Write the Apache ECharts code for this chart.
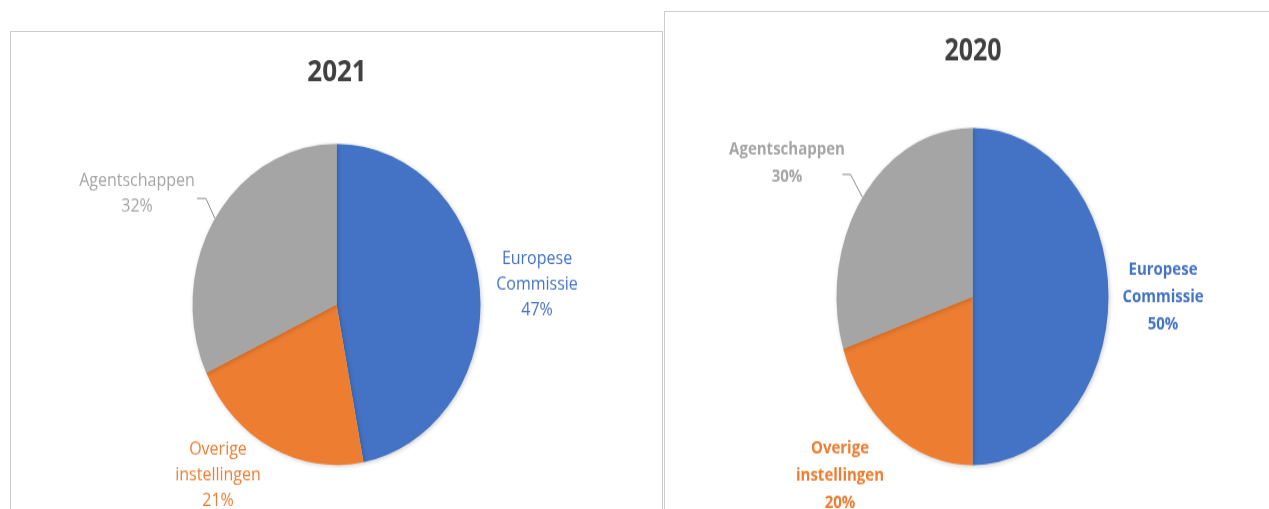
<!DOCTYPE html>
<html>
<head>
<meta charset="utf-8">
<script src="https://cdn.jsdelivr.net/npm/echarts@6/dist/echarts.min.js"></script>
<style>
html,body{margin:0;padding:0;background:#fff;overflow:hidden;width:1269px;height:509px;}
.frame{position:absolute;border:1.5px solid #cdcdcd;box-sizing:border-box;}
.chart{position:absolute;transform-origin:0 0;}
</style>
</head>
<body>
<div class="frame" style="left:10px;top:31px;width:653px;height:540px;"></div>
<div class="frame" style="left:664px;top:11px;width:640px;height:560px;"></div>
<div id="chart2021" class="chart" style="left:12px;top:31px;width:650px;height:430px;transform:scaleY(1.115)"></div>
<div id="chart2020" class="chart" style="left:665px;top:12px;width:616px;height:400px;transform:scaleY(1.24)"></div>
<script>
// data
var categories = ['Europese Commissie', 'Overige instellingen', 'Agentschappen'];
var values2021 = [47, 21, 32];
var values2020 = [50, 20, 30];
var sliceColors = ['#4472C4', '#ED7D31', '#A5A5A5'];

function makePie(domId, title, values, o){
	var chart = echarts.init(document.getElementById(domId));
	var data = [];
	for (var i = 0; i < categories.length; i++) {
		data.push({
			name: categories[i],
			value: values[i],
			itemStyle: {color: sliceColors[i]},
			label: {color: sliceColors[i]},
			labelLine: {show: i === 2}
		});
	}
	chart.setOption({
		animation: false,
		title: {
			text: title,
			left: 'center',
			top: o.titleTop,
			textStyle: {fontFamily: 'Open Sans', fontSize: o.titleSize, fontWeight: 'bold', color: '#404040', lineHeight: 30}
		},
		series: [{
			type: 'pie',
			center: o.center,
			radius: o.radius,
			startAngle: 90,
			clockwise: true,
			avoidLabelOverlap: false,
			data: data,
			itemStyle: {shadowBlur: 4, shadowColor: 'rgba(0,0,0,0.2)', shadowOffsetX: 1, shadowOffsetY: 1},
			label: {
				show: true,
				position: 'outside',
				fontFamily: 'Open Sans',
				fontSize: o.fontSize,
				fontWeight: o.bold ? 'bold' : 'normal',
				lineHeight: o.lineHeight,
				formatter: function(p){
					return p.name.replace(' ', '\n') + '\n' + p.value + '%';
				}
			},
			labelLine: {length: 10, length2: 10, lineStyle: {color: '#8c8c8c', width: 1}},
			// labels placed like in the original, leader only for Agentschappen
			labelLayout: function(p){
				var pos = o.labelPos[p.dataIndex];
				var res = {x: pos[0], y: pos[1], align: 'center', verticalAlign: 'middle'};
				if (p.labelLinePoints) {
					var a = p.labelLinePoints[0];
					res.labelLinePoints = [
						[a[0], a[1]],
						[a[0] + o.leader[0][0], a[1] + o.leader[0][1]],
						[a[0] + o.leader[1][0], a[1] + o.leader[1][1]]
					];
				}
				return res;
			}
		}]
	});
	return chart;
}

makePie('chart2021', '2021', values2021, {
	titleTop: 18, titleSize: 26,
	center: [324.5, 245.3], radius: 144,
	fontSize: 16, bold: false, lineHeight: 23,
	labelPos: [[525, 227], [206, 398.5], [125, 146]],
	leader: [[-9, -18], [-18, -18]]
});

makePie('chart2020', '2020', values2020, {
	titleTop: 12, titleSize: 25,
	center: [307.5, 229.4], radius: 136,
	fontSize: 15, bold: true, lineHeight: 22,
	labelPos: [[498, 229.5], [175, 373.5], [122, 121.5]],
	leader: [[-12, -18.5], [-20, -18.5]]
});
</script>
</body>
</html>
